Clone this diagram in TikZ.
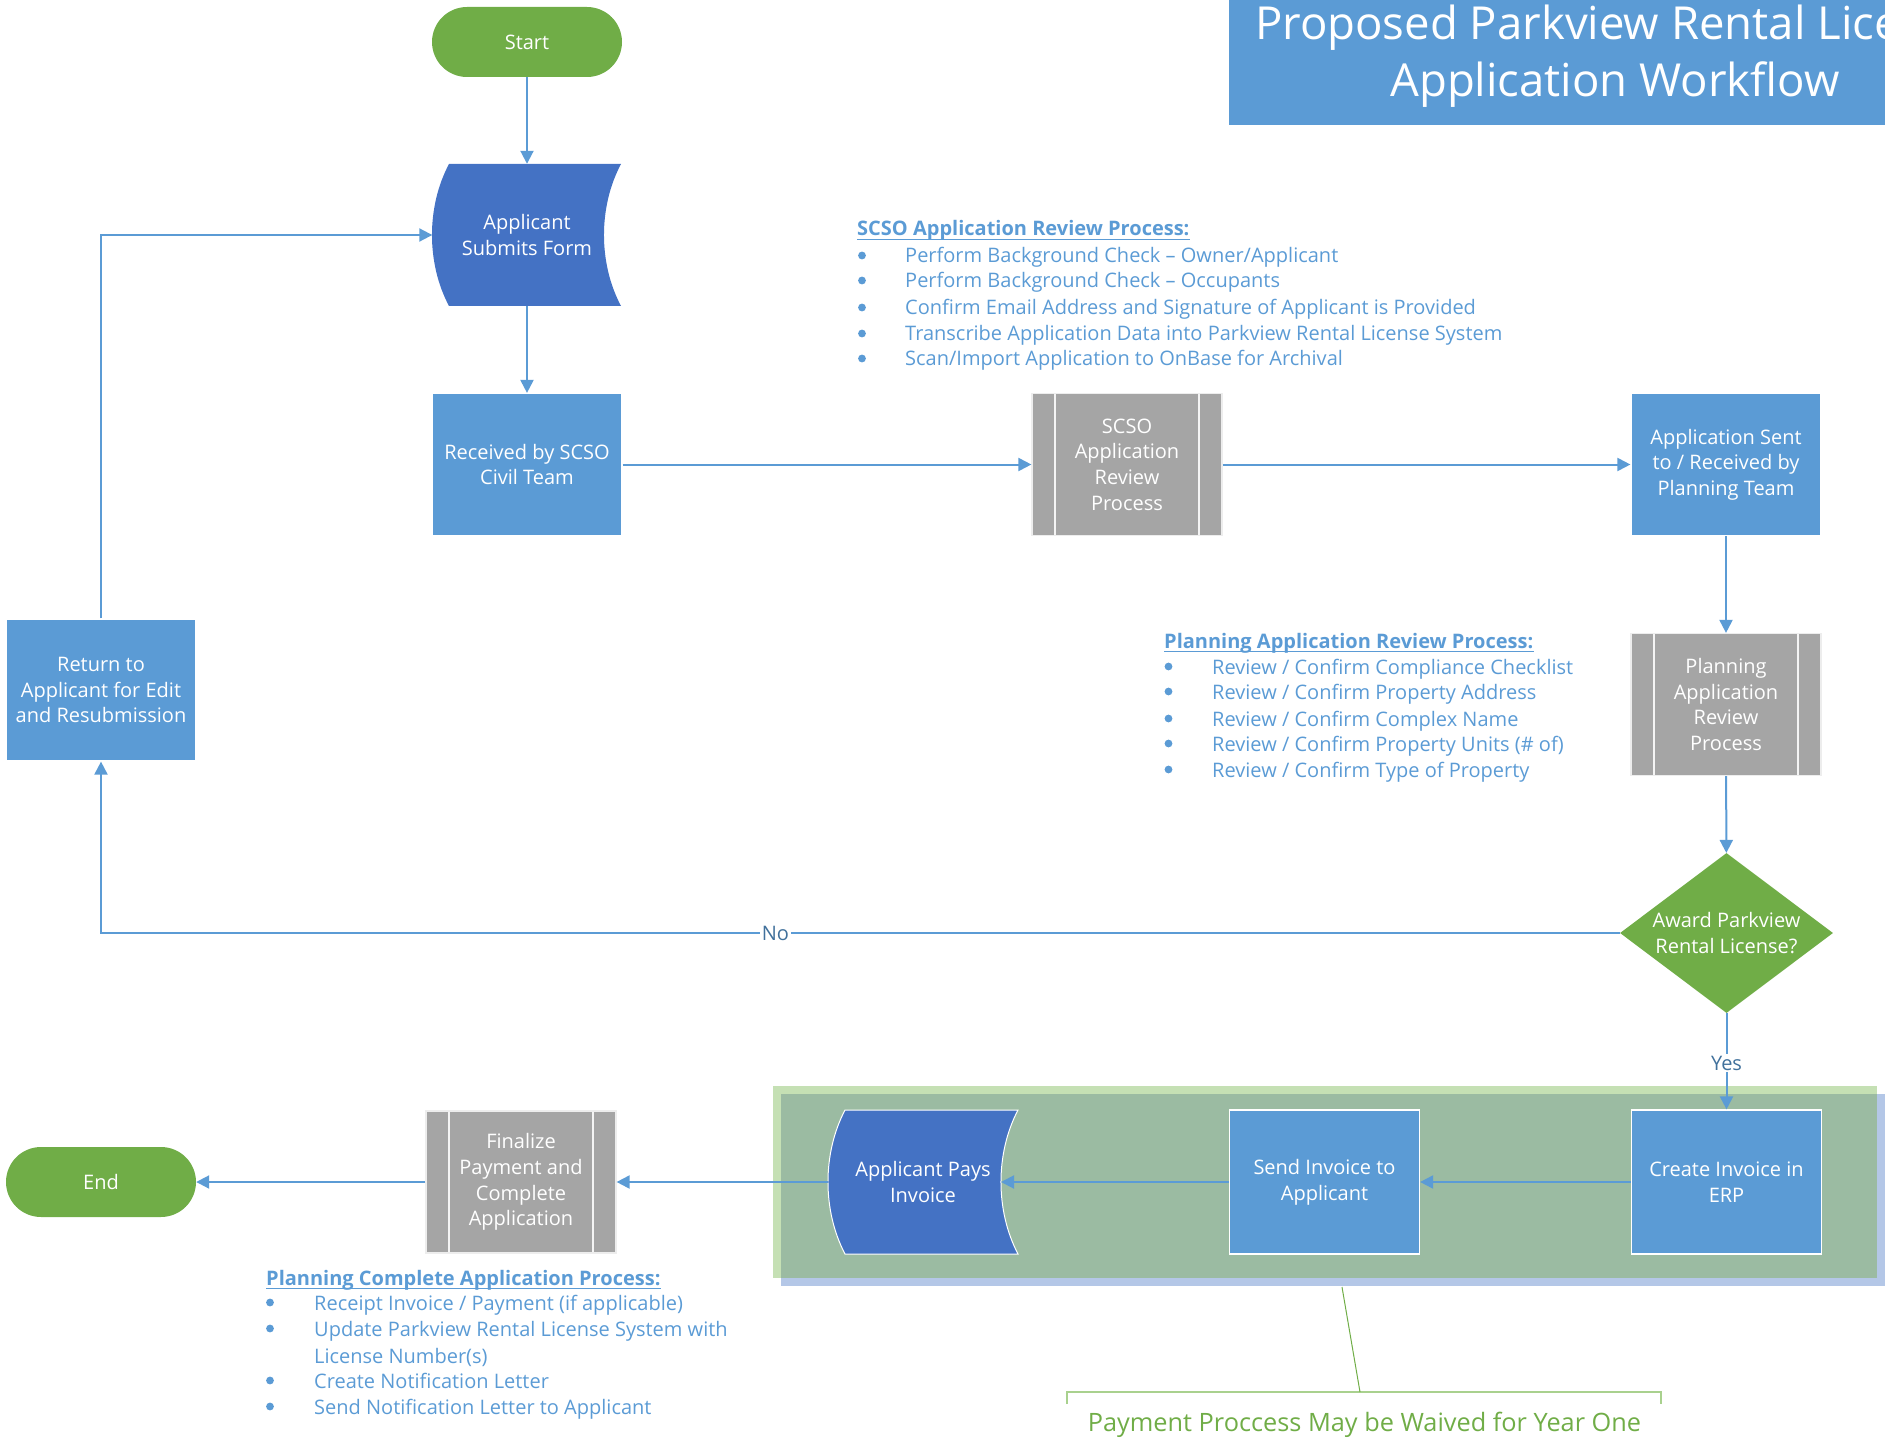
\documentclass[tikz,border=0pt]{standalone}
\usepackage{fontspec}
\setmainfont{Open Sans}
\usetikzlibrary{arrows.meta,shapes.geometric}
\definecolor{bxblue}{HTML}{5B9BD5}
\definecolor{dkblue}{HTML}{4472C4}
\definecolor{grn}{HTML}{70AD47}
\definecolor{gry}{HTML}{A5A5A5}
\definecolor{conn}{HTML}{5B9BD5}
\definecolor{lblc}{HTML}{41719C}
\definecolor{ltgrn}{HTML}{C5E0B4}
\definecolor{ltblu}{HTML}{B4C7E7}
\definecolor{ovl}{HTML}{9BBBA2}
\definecolor{brk}{HTML}{A9D18E}
\begin{document}
\begin{tikzpicture}[x=1pt,y=-1pt,
  nf/.style={font={\fontsize{20}{25.6}\selectfont}},
  blk/.style={rectangle, fill=bxblue, draw=white, line width=1.2pt, minimum width=190pt, minimum height=142pt, text=white, align=center, nf, inner sep=0pt},
  subp/.style={rectangle, fill=gry, draw=white!80!gry, line width=1.2pt, minimum width=190pt, minimum height=142pt, text=white, align=center, nf, inner sep=0pt,
    path picture={\draw[white!88!gry, line width=1.6pt]
      ([xshift=23pt]path picture bounding box.north west) -- ([xshift=23pt]path picture bounding box.south west)
      ([xshift=-23pt]path picture bounding box.north east) -- ([xshift=-23pt]path picture bounding box.south east);}},
  term/.style={rectangle, rounded corners=35pt, fill=grn, minimum width=190pt, minimum height=70pt, text=white, nf, inner sep=0pt},
  dec/.style={diamond, fill=grn, minimum width=213pt, minimum height=160pt, inner sep=-20pt, text=white, align=center, nf},
  ghost/.style={rectangle, minimum width=189pt, minimum height=142pt, inner sep=0pt, text=white, align=center, nf},
  arr/.style={draw=conn, line width=2pt, -{Triangle[length=13pt,width=13pt]}},
  lbl/.style={text=lblc, nf, fill=white, inner sep=2pt},
  bul/.style={text=bxblue, nf, anchor=base west, inner sep=0pt},
  bult/.style={text=bxblue, nf, anchor=base west, inner sep=0pt, font={\fontsize{20}{25.6}\selectfont\bfseries}},
  dot/.style={fill=bxblue},
]
\useasboundingbox (0,0) rectangle (1885,1439);
\clip (0,0) rectangle (1885,1439);

% title
\node[fill=bxblue, minimum width=772pt, minimum height=125pt, inner sep=0pt, anchor=north west] (titlebox) at (1229,0) {};
\node[text=white, font={\fontsize{45.5}{57}\selectfont}, anchor=base, inner sep=0pt] (title1) at (1615,40) {Proposed Parkview Rental License};
\node[text=white, font={\fontsize{45.5}{57}\selectfont}, anchor=base, inner sep=0pt] (title2) at (1615,97) {Application Workflow};

% payment group background
\fill[ltblu] (781,1094) rectangle (1890,1286);
\fill[ltgrn] (773,1086) rectangle (1877,1278);
\fill[ovl] (781,1094) rectangle (1877,1278);

% nodes
\node[term] (Start) at (527,42) {Start};
\fill[dkblue] (449,164) -- (621,164) .. controls (598.3,206.6) and (598.3,263.4) .. (621,306) -- (449,306) .. controls (426.3,263.4) and (426.3,206.6) .. (449,164) -- cycle;
\node[ghost] (Submits) at (527,235) {Applicant\\Submits Form};
\node[blk] (Received) at (527,464.5) {Received by SCSO\\Civil Team};
\node[subp] (SCSOrev) at (1127,464.5) {SCSO\\Application\\Review\\Process};
\node[blk] (Sent) at (1726,464.5) {Application Sent\\to / Received by\\Planning Team};
\node[subp] (Planrev) at (1726,704.5) {Planning\\Application\\Review\\Process};
\node[dec] (Dec) at (1726.5,933) {Award Parkview\\Rental License?};
\node[blk] (Return) at (101,690) {Return to\\Applicant for Edit\\and Resubmission};
\node[blk, minimum height=144pt] (Create) at (1726.5,1182) {Create Invoice in\\ERP};
\node[blk, minimum height=144pt] (Send) at (1324.5,1182) {Send Invoice to\\Applicant};
\filldraw[fill=dkblue, draw=white, line width=1pt] (845,1110) -- (1018,1110) .. controls (995.3,1153.2) and (995.3,1210.8) .. (1018,1254) -- (845,1254) .. controls (822.3,1210.8) and (822.3,1153.2) .. (845,1110) -- cycle;
\node[ghost, minimum width=190pt, minimum height=144pt] (Pays) at (923,1182) {Applicant Pays\\Invoice};
\coordinate (PaysIn) at (1001,1182);
\node[subp] (Finalize) at (521,1182) {Finalize\\Payment and\\Complete\\Application};
\node[term] (End) at (101,1182) {End};

% connectors
\draw[arr] (Start.south) -- (Submits.north);
\draw[arr] (Submits.south) -- (Received.north);
\draw[arr] (Received) -- (SCSOrev);
\draw[arr] (SCSOrev) -- (Sent);
\draw[arr] (Sent) -- (Planrev);
\draw[arr] (Planrev) -- (Dec);
\draw[arr] (Dec.west) -| node[lbl, pos=0.278] (NoL) {No} (Return.south);
\draw[arr] (Return.north) |- (Submits.west);
\draw[arr] (Dec.south) -- node[lbl, pos=0.52] (YesL) {Yes} (Create.north);
\draw[arr] (Create) -- (Send);
\draw[arr] (Send) -- (PaysIn);
\draw[arr] (Pays.west) -- (Finalize.east);
\draw[arr] (Finalize) -- (End);

% SCSO list
\node[bult] (sT) at (857,236) {SCSO Application Review Process:};
\draw[bxblue, line width=1.4pt] ([yshift=-3.5pt]sT.base west) -- ([yshift=-3.5pt]sT.base east);
\node[bul] (s1) at (905,263) {Perform Background Check -- Owner/Applicant};
\node[bul] (s2) at (905,288) {Perform Background Check -- Occupants};
\node[bul] (s3) at (905,315) {Confirm Email Address and Signature of Applicant is Provided};
\node[bul] (s4) at (905,341) {Transcribe Application Data into Parkview Rental License System};
\node[bul] (s5) at (905,366) {Scan/Import Application to OnBase for Archival};
\foreach \yy in {263,288,315,341,366} \fill[dot] (862,\yy-7.5) circle (3.9);

% Planning list
\node[bult] (pT) at (1164,648) {Planning Application Review Process:};
\draw[bxblue, line width=1.4pt] ([yshift=-3.5pt]pT.base west) -- ([yshift=-3.5pt]pT.base east);
\node[bul] (p1) at (1212,674) {Review / Confirm Compliance Checklist};
\node[bul] (p2) at (1212,699) {Review / Confirm Property Address};
\node[bul] (p3) at (1212,726) {Review / Confirm Complex Name};
\node[bul] (p4) at (1212,751) {Review / Confirm Property Units (\# of)};
\node[bul] (p5) at (1212,777) {Review / Confirm Type of Property};
\foreach \yy in {674,699,726,751,777} \fill[dot] (1168.5,\yy-7.5) circle (3.9);

% Planning complete list
\node[bult] (cT) at (266,1285) {Planning Complete Application Process:};
\draw[bxblue, line width=1.4pt] ([yshift=-3.5pt]cT.base west) -- ([yshift=-3.5pt]cT.base east);
\node[bul] (c1) at (314,1310) {Receipt Invoice / Payment (if applicable)};
\node[bul] (c2) at (314,1336) {Update Parkview Rental License System with};
\node[bul] (c2b) at (314,1363) {License Number(s)};
\node[bul] (c3) at (314,1388) {Create Notification Letter};
\node[bul] (c4) at (314,1414) {Send Notification Letter to Applicant};
\foreach \yy in {1310,1336,1388,1414} \fill[dot] (270,\yy-7.5) circle (3.9);

% note
\coordinate (grpbot) at (1342,1287);
\coordinate (brkmid) at (1360,1392);
\draw[brk, line width=2pt] (1067,1404) -- (1067,1392) -- (1661,1392) -- (1661,1404);
\draw[grn, line width=1pt] (grpbot) -- (brkmid);
\node[text=grn, font={\fontsize{25.3}{30}\selectfont}, anchor=base, inner sep=0pt] (note) at (1364.5,1431) {Payment Proccess May be Waived for Year One};
\end{tikzpicture}
\end{document}
